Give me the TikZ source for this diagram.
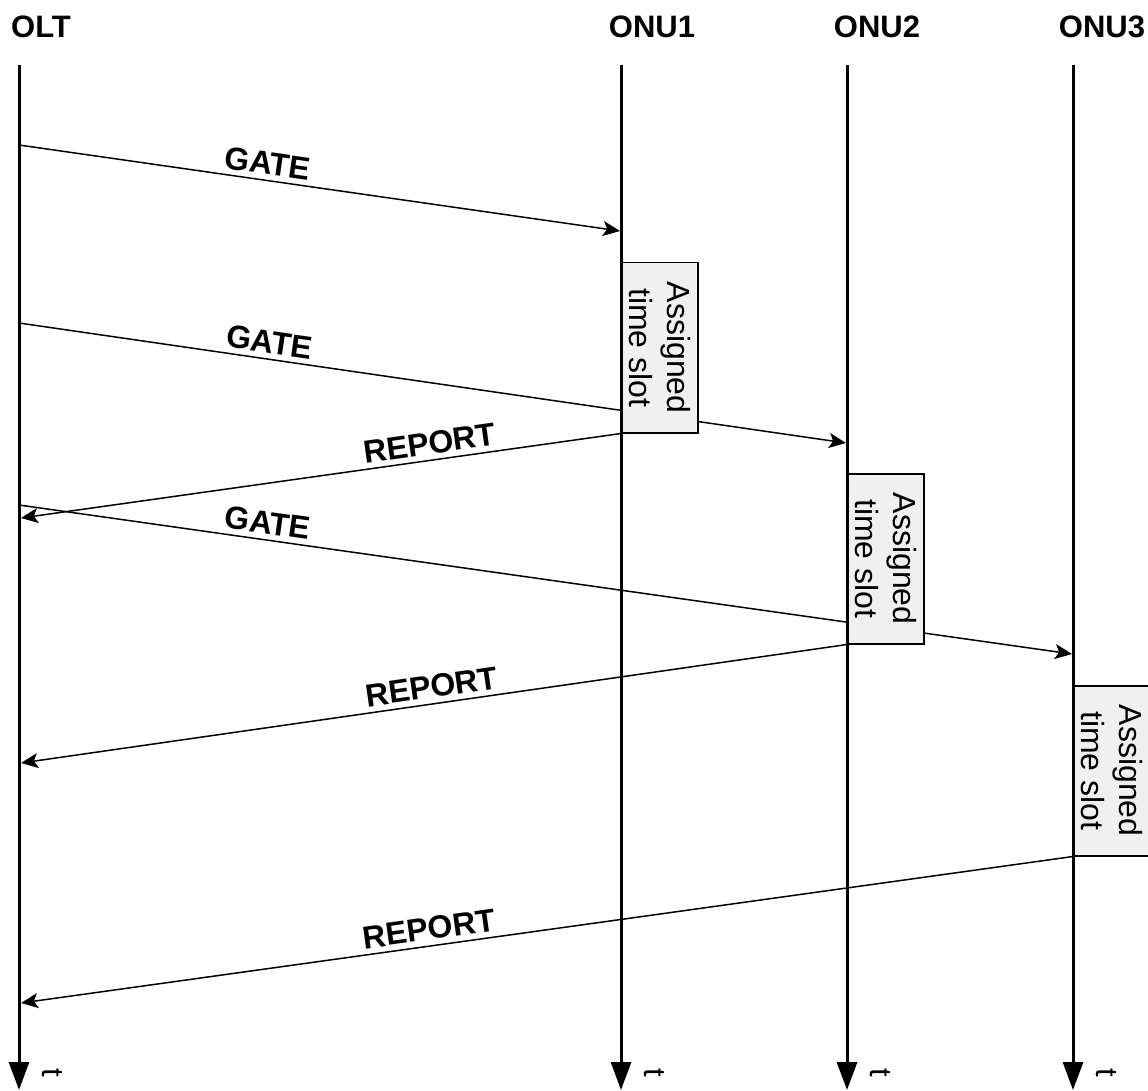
\documentclass[tikz,border=0pt]{standalone}
\usepackage{fontspec}
\setmainfont{Liberation Sans}
\usetikzlibrary{arrows.meta,backgrounds}
\tikzset{
  lane/.style={line width=3pt, -{Triangle[length=28pt,width=20pt]}},
  msg/.style={line width=1.5pt, -{Stealth[length=17pt,width=15pt,inset=4pt]}},
  msglabel/.style={font=\bfseries\fontsize{32}{38}\selectfont, sloped, above, inner sep=5pt},
  hdr/.style={font=\bfseries\fontsize{31}{37}\selectfont, anchor=base},
  slotbox/.style={draw, line width=1.5pt, fill=black!6, rotate=-90, anchor=south west,
    minimum width=170pt, minimum height=76pt, inner sep=0pt, align=center,
    font=\fontsize{32}{38}\selectfont},
}
\begin{document}
\begin{tikzpicture}[x=1pt,y=-1pt]
    \useasboundingbox (0,0) rectangle (1148,1091);

    % Message end points on the OLT and ONU lines
    \coordinate (g1s) at (19,145);  \coordinate (g1e) at (620,231);
    \coordinate (g2s) at (19,323);  \coordinate (g2e) at (846,443);
    \coordinate (g3s) at (19,505);  \coordinate (g3e) at (1072,654);
    \coordinate (r1e) at (21,518);
    \coordinate (r2e) at (21,763);
    \coordinate (r3e) at (21,1003);

    % Slot boxes (placed first so the messages can start from them)
    \node[slotbox] (slot1) at (621,262) {Assigned\\time slot};
    \node[slotbox] (slot2) at (847,473) {Assigned\\time slot};
    \node[slotbox] (slot3) at (1073,685) {Assigned\\time slot};

    % GATE and REPORT messages, behind the boxes
    \begin{scope}[on background layer]
    \draw[msg] (g1s) -- (g1e) node[msglabel, pos=0.41] {GATE};
    \draw[msg] (g2s) -- (g2e) node[msglabel, pos=0.30] {GATE};
    \draw[msg] (g3s) -- (g3e) node[msglabel, pos=0.234] {GATE};
    \draw[msg] (slot1.south east) -- (r1e) node[msglabel, pos=0.315] {REPORT};
    \draw[msg] (slot2.south east) -- (r2e) node[msglabel, pos=0.50] {REPORT};
    \draw[msg] (slot3.south east) -- (r3e) node[msglabel, pos=0.61] {REPORT};
    \end{scope}

    % Time lines
    \foreach \name/\x/\lbl/\lx in {olt/19/OLT/41, onu1/621/ONU1/652, onu2/847/ONU2/877, onu3/1073/ONU3/1102} {
        \node[hdr] (\name) at (\lx,38) {\lbl};
        \coordinate (\name top) at (\x,65);
        \coordinate (\name bot) at (\x,1090);
        \draw[lane] (\name top) -- (\name bot);
        \node[rotate=-90, font=\fontsize{31}{37}\selectfont] (\name t) at (\x+33,1073) {t};
    }
\end{tikzpicture}
\end{document}
